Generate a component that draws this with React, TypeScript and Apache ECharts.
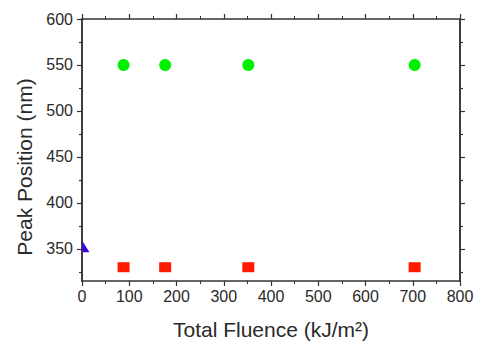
import React, { useEffect, useRef } from "react";
import * as echarts from "echarts";

const greenX = [88, 176, 352, 704];
const greenY = [550, 550, 550, 550];
const redX = [88, 176, 352, 704];
const redY = [330, 330, 330, 330];
const blueX = [0];
const blueY = [350];
const yLabelValues = [350, 400, 450, 500, 550, 600];
const yMinorValues = [325, 375, 425, 475, 525, 575];

const FONT = "Liberation Sans, Arial, sans-serif";
const AX = "#333";

export default function App() {
  const ref = useRef<HTMLDivElement>(null);
  useEffect(() => {
    const chart = echarts.init(ref.current!, null, { renderer: "svg" });
    const xBase = (pos: "bottom" | "top", show: boolean) => ({
      type: "value",
      position: pos,
      min: 0,
      max: 800,
      interval: 100,
      axisLine: { show: true, onZero: false, lineStyle: { color: AX, width: 1.5 } },
      axisTick: { show: true, inside: false, length: 5, lineStyle: { color: AX, width: 1.2 } },
      minorTick: { show: true, splitNumber: 2, length: 3, lineStyle: { color: AX, width: 1 } },
      splitLine: { show: false },
      axisLabel: { show, color: "#2a2a2a", fontSize: 16, fontFamily: FONT, margin: 7 },
      name: show ? "Total Fluence (kJ/m²)" : "",
      nameLocation: "middle",
      nameGap: 38,
      nameTextStyle: { color: "#2a2a2a", fontSize: 21, fontFamily: FONT },
    });
    const yBase = (pos: "left" | "right", labels: boolean, minor: boolean) => ({
      type: "value",
      position: pos,
      min: 315,
      max: 600,
      axisLine: { show: true, onZero: false, lineStyle: { color: AX, width: 1.5 } },
      axisTick: {
        show: true,
        inside: false,
        length: minor ? 3 : 5,
        customValues: minor ? yMinorValues : yLabelValues,
        lineStyle: { color: AX, width: 1.2 },
      },
      splitLine: { show: false },
      axisLabel: {
        show: labels,
        customValues: yLabelValues,
        color: "#2a2a2a",
        fontSize: 16,
        fontFamily: FONT,
        margin: 9,
      },
      name: labels ? "Peak Position (nm)" : "",
      nameLocation: "middle",
      nameGap: 47,
      nameRotate: 90,
      nameTextStyle: {
        color: "#2a2a2a",
        fontSize: 21,
        fontFamily: FONT,
        padding: [0, 34, 0, 0],
      },
    });
    chart.setOption({
      animation: false,
      backgroundColor: "#fff",
      grid: { left: 82, right: 21, top: 19, bottom: 64, containLabel: false },
      xAxis: [xBase("bottom", true), xBase("top", false)],
      yAxis: [
        yBase("left", true, false),
        yBase("left", false, true),
        yBase("right", false, false),
        yBase("right", false, true),
      ],
      series: [
        {
          type: "scatter",
          data: greenX.map((x, i) => [x, greenY[i]]),
          symbol: "circle",
          symbolSize: 12,
          itemStyle: { color: "#00f000", opacity: 1 },
          clip: true,
        },
        {
          type: "scatter",
          data: redX.map((x, i) => [x, redY[i]]),
          symbol: "rect",
          symbolSize: [12, 10],
          itemStyle: { color: "#ff1a00", opacity: 1 },
          clip: true,
        },
        {
          type: "scatter",
          data: blueX.map((x, i) => [x, blueY[i]]),
          symbol: "path://M0,0 L1,1 L0,1 Z",
          symbolSize: [7, 11],
          symbolOffset: [4, -2],
          itemStyle: { color: "#3a00ee", opacity: 1 },
          clip: false,
        },
      ],
    });
    return () => chart.dispose();
  }, []);
  return <div ref={ref} style={{ width: 481, height: 345, position: "absolute", left: 0, top: 0 }} />;
}
